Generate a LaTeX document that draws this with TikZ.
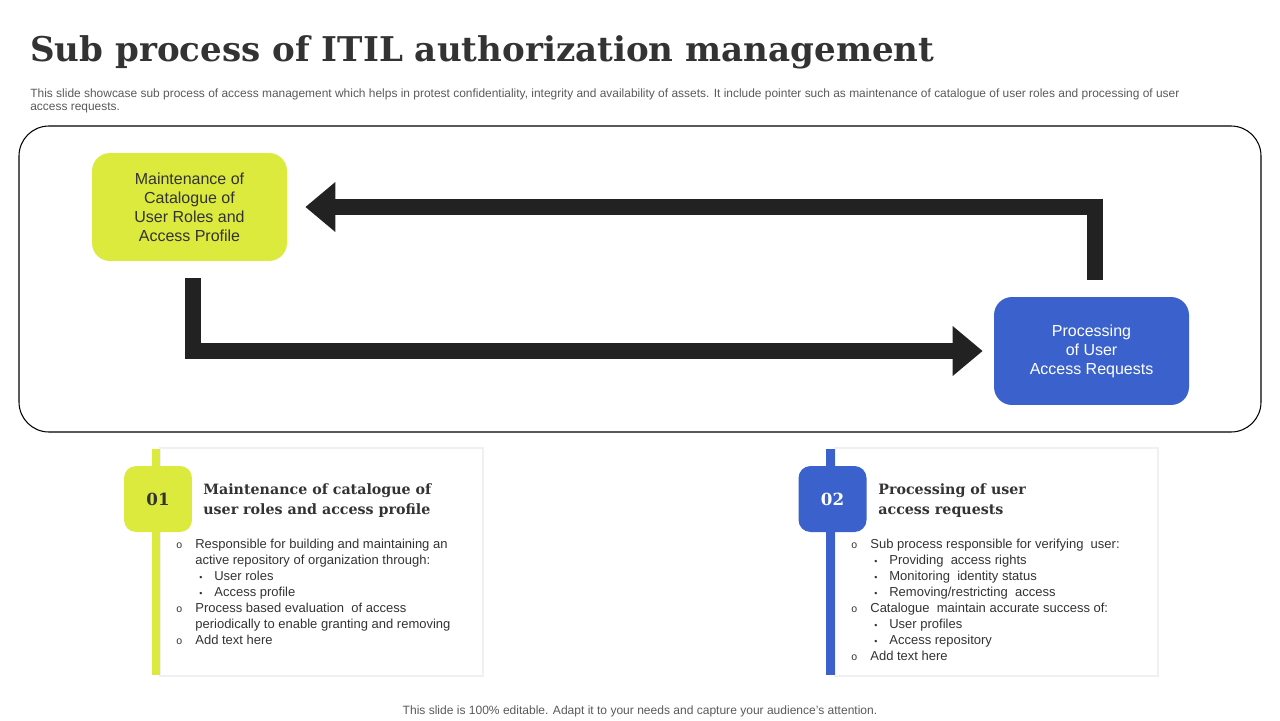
\documentclass[tikz,border=0pt]{standalone}
\usepackage{fontspec}
\setmainfont{Liberation Sans}
\newfontfamily\headfont{DejaVu Serif}
\usetikzlibrary{arrows.meta}
\definecolor{ITLime}{HTML}{DCE93D}
\definecolor{ITBlue}{HTML}{3A61CC}
\definecolor{ITDark}{HTML}{222222}
\definecolor{ITText}{HTML}{333333}
\definecolor{ITGrey}{HTML}{595959}
\newcommand\mainpt[1]{\makebox[0.38cm][l]{\fontsize{6}{6}\selectfont o}#1}
\newcommand\contpt[1]{\hspace*{0.38cm}#1}
\newcommand\subpt[1]{\hspace*{0.38cm}\makebox[0.38cm][l]{\hspace*{0.08cm}\fontsize{5}{5}\selectfont\textbullet}#1}

\begin{document}
\begin{tikzpicture}[x=0.02cm,y=-0.02cm,
  stepbox/.style={rounded corners=0.36cm,minimum width=3.9cm,minimum height=2.16cm,align=center,inner sep=0pt,font=\fontsize{9.1}{10.8}\selectfont},
  flow/.style={draw=ITDark,line width=0.32cm,-{Triangle[length=0.6cm,width=0.96cm]}},
  badge/.style={rounded corners=0.24cm,minimum width=1.36cm,minimum height=1.32cm,inner sep=0pt,font=\headfont\bfseries\fontsize{9.5}{9.5}\selectfont},
  cardhead/.style={anchor=west,align=left,inner sep=0pt,text=ITText,font=\headfont\bfseries\fontsize{8.1}{11.4}\selectfont},
  cardbody/.style={anchor=north west,align=left,inner sep=0pt,text=ITText,font=\fontsize{7.4}{9.1}\selectfont}]
\path[use as bounding box] (0,0) rectangle (1280,720);
% heading
\node[anchor=west,inner sep=0pt,text=ITText,font=\headfont\bfseries\fontsize{19.4}{22}\selectfont] (title) at (30,52) {Sub process of ITIL authorization management};
\node[anchor=north west,align=left,inner sep=0pt,text=ITGrey,font=\fontsize{6.8}{7.4}\selectfont] (intro) at (30,88) {This slide showcase sub process of access management which helps in protest confidentiality, integrity and availability of assets. It include pointer such as maintenance of catalogue of user roles and processing of user\\access requests.};
% loop
\draw[line width=0.6pt] (19,126) [rounded corners=0.6cm] rectangle (1261,432);
\node[stepbox,fill=ITLime,text=ITText] (green) at (189.5,207) {Maintenance of\\Catalogue of\\User Roles and\\Access Profile};
\node[stepbox,fill=ITBlue,text=white] (blue) at (1091.5,351) {Processing\\of User\\Access Requests};
\draw[flow,shorten <=0.34cm,shorten >=0.36cm] ([xshift=0.06cm]blue.north) |- (green.east);
\draw[flow,shorten <=0.34cm,shorten >=0.22cm] ([xshift=0.07cm]green.south) |- (blue.west);
% card 01
\draw[draw=black!6,line width=1.2pt,fill=white] (160,448) rectangle (483,676);
\fill[ITLime] (152,449) rectangle (160,675);
\node[badge,fill=ITLime,text=ITText] (n1) at (158,499) {01};
\node[cardhead] (h1) at (203,501) {Maintenance of catalogue of\\user roles and access profile};
\node[cardbody] (b1) at (176,539) {\mainpt{Responsible for building and maintaining an}\\
\contpt{active repository of organization through:}\\
\subpt{User roles}\\
\subpt{Access profile}\\
\mainpt{Process based evaluation \ of access}\\
\contpt{periodically to enable granting and removing}\\
\mainpt{Add text here}};
% card 02
\draw[draw=black!6,line width=1.2pt,fill=white] (835,448) rectangle (1158,676);
\fill[ITBlue] (826,449) rectangle (835,675);
\node[badge,fill=ITBlue,text=white] (n2) at (832.5,499) {02};
\node[cardhead] (h2) at (878,501) {Processing of user\\access requests};
\node[cardbody] (b2) at (851,539) {\mainpt{Sub process responsible for verifying \ user:}\\
\subpt{Providing \ access rights}\\
\subpt{Monitoring \ identity status}\\
\subpt{Removing/restricting \ access}\\
\mainpt{Catalogue \ maintain accurate success of:}\\
\subpt{User profiles}\\
\subpt{Access repository}\\
\mainpt{Add text here}};
% footer
\node[inner sep=0pt,text=ITGrey,font=\fontsize{6.85}{7.5}\selectfont] (foot) at (640,711) {This slide is 100\% editable. Adapt it to your needs and capture your audience's attention.};
\end{tikzpicture}
\end{document}
